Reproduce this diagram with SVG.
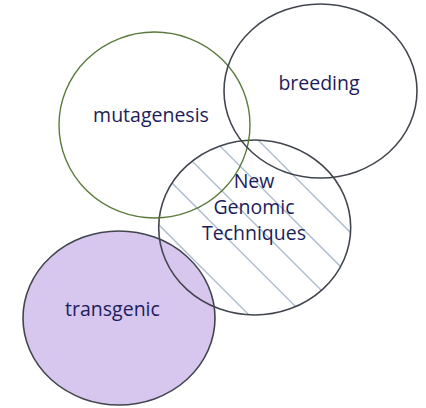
<svg xmlns="http://www.w3.org/2000/svg" width="426" height="408" viewBox="0 0 426 408">
<style>
.lbl{font-family:"Open Sans","Noto Sans","Liberation Sans",sans-serif;font-size:19.5px;fill:#1d1d5c;text-anchor:middle}
.ring{fill:none;stroke:#41454d;stroke-width:1.6}
.hatch{stroke:#a8bacb;stroke-width:1.3}
</style>
<defs>
<clipPath id="ngtClip"><ellipse cx="254.7" cy="227.5" rx="96" ry="87.5"/></clipPath>
</defs>
<rect width="426" height="408" fill="#ffffff"/>
<g id="transgenic">
<ellipse cx="119" cy="318" rx="96" ry="87" fill="#d7c6ee" stroke="#41454d" stroke-width="1.6"/>
<text class="lbl" x="112.5" y="316">transgenic</text>
</g>
<g id="ngt">
<g clip-path="url(#ngtClip)">
<line class="hatch" x1="150" y1="216" x2="360" y2="426"/>
<line class="hatch" x1="150" y1="161" x2="360" y2="371"/>
<line class="hatch" x1="150" y1="119" x2="360" y2="329"/>
<line class="hatch" x1="150" y1="76" x2="360" y2="286"/>
<line class="hatch" x1="150" y1="32" x2="360" y2="242"/>
</g>
<ellipse class="ring" cx="254.7" cy="227.5" rx="96" ry="87.5"/>
<text class="lbl" x="254" y="188">New</text>
<text class="lbl" x="254" y="214">Genomic</text>
<text class="lbl" x="254" y="240">Techniques</text>
</g>
<g id="mutagenesis">
<ellipse cx="154.5" cy="125" rx="95.5" ry="93" fill="none" stroke="#5b7a3c" stroke-width="1.4"/>
<text class="lbl" x="151" y="122">mutagenesis</text>
</g>
<g id="breeding">
<ellipse class="ring" cx="320.5" cy="91" rx="96.5" ry="87"/>
<text class="lbl" x="319" y="90">breeding</text>
</g>
</svg>
